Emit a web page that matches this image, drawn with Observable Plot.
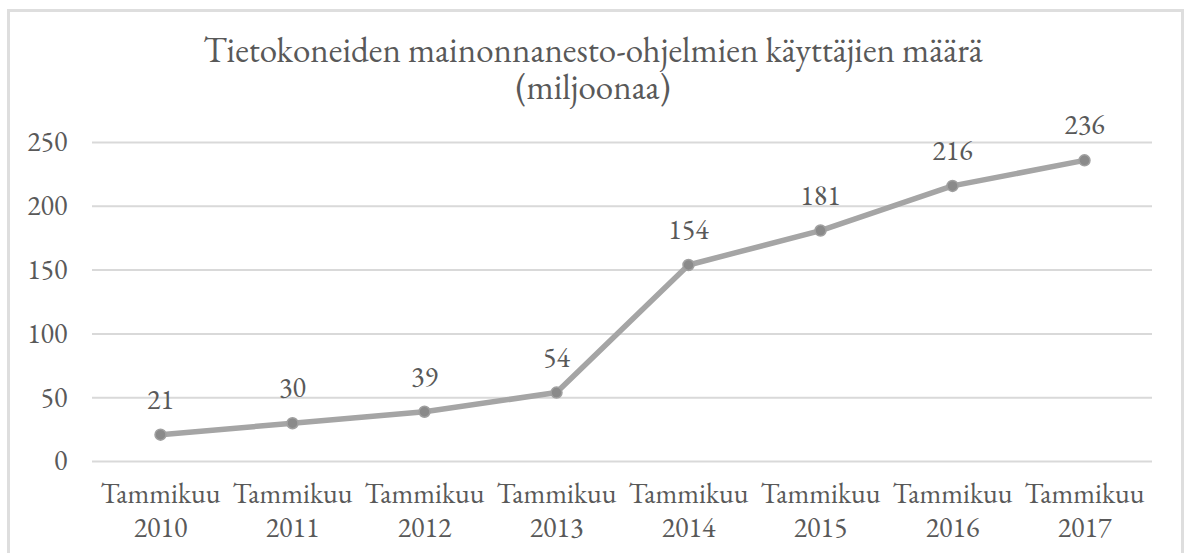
<!DOCTYPE html>
<html>
<head>
<meta charset="utf-8">
<script src="https://cdn.jsdelivr.net/npm/d3@7"></script>
<script src="https://cdn.jsdelivr.net/npm/@observablehq/plot@0.6"></script>
<style>
  html, body { margin: 0; padding: 0; background: #fff; overflow: hidden; }
  #wrap { position: relative; width: 1186px; height: 553px; overflow: hidden; }
  #frame { position: absolute; left: 7px; top: 9px; width: 1171px; height: 600px; border: 3px solid #dedede; box-sizing: content-box; }
  #title { position: absolute; left: 0; top: 31px; width: 1186px; text-align: center; font-family: 'EB Garamond', 'Liberation Serif', serif; font-size: 35px; line-height: 37px; color: #595959; }
  #chart { position: absolute; left: 0; top: 100px; }
</style>
</head>
<body>
<div id="wrap">
  <div id="frame"></div>
  <div id="title">Tietokoneiden mainonnanesto-ohjelmien käyttäjien määrä<br>(miljoonaa)</div>
  <div id="chart"></div>
</div>
<script>
const months = ["Tammikuu", "Tammikuu", "Tammikuu", "Tammikuu", "Tammikuu", "Tammikuu", "Tammikuu", "Tammikuu"];
const years = ["2010", "2011", "2012", "2013", "2014", "2015", "2016", "2017"];
const users = [21, 30, 39, 54, 154, 181, 216, 236];
const yTicks = [0, 50, 100, 150, 200, 250];

const labels = years.map((y, i) => months[i] + "\n" + y);
const data = labels.map((c, i) => ({cat: c, value: users[i]}));

const chart = Plot.plot({
  width: 1186,
  height: 453,
  marginLeft: 92,
  marginRight: 34,
  marginTop: 42,
  marginBottom: 92,
  style: {fontFamily: "'EB Garamond', 'Liberation Serif', serif", fontSize: "28px", color: "#595959", background: "transparent"},
  x: {type: "point", domain: labels, padding: 0.5, label: null},
  y: {domain: [0, 250], label: null},
  marks: [
    Plot.ruleY(yTicks, {stroke: "#d9d9d9", strokeWidth: 2}),
    Plot.axisY({ticks: yTicks, tickSize: 0, tickPadding: 25, fontSize: 28, label: null}),
    Plot.axisX({tickSize: 0, tickPadding: 18, fontSize: 28, lineHeight: 1.2, label: null}),
    Plot.line(data, {x: "cat", y: "value", stroke: "#a5a5a5", strokeWidth: 5.5}),
    Plot.dot(data, {x: "cat", y: "value", r: 5.5, fill: "#8a8a8a", stroke: "#a0a0a0", strokeWidth: 1.5}),
    Plot.text(data, {x: "cat", y: "value", text: d => String(d.value), dy: -35, fontSize: 28, fill: "#595959"})
  ]
});
document.getElementById("chart").appendChild(chart);
</script>
</body>
</html>
